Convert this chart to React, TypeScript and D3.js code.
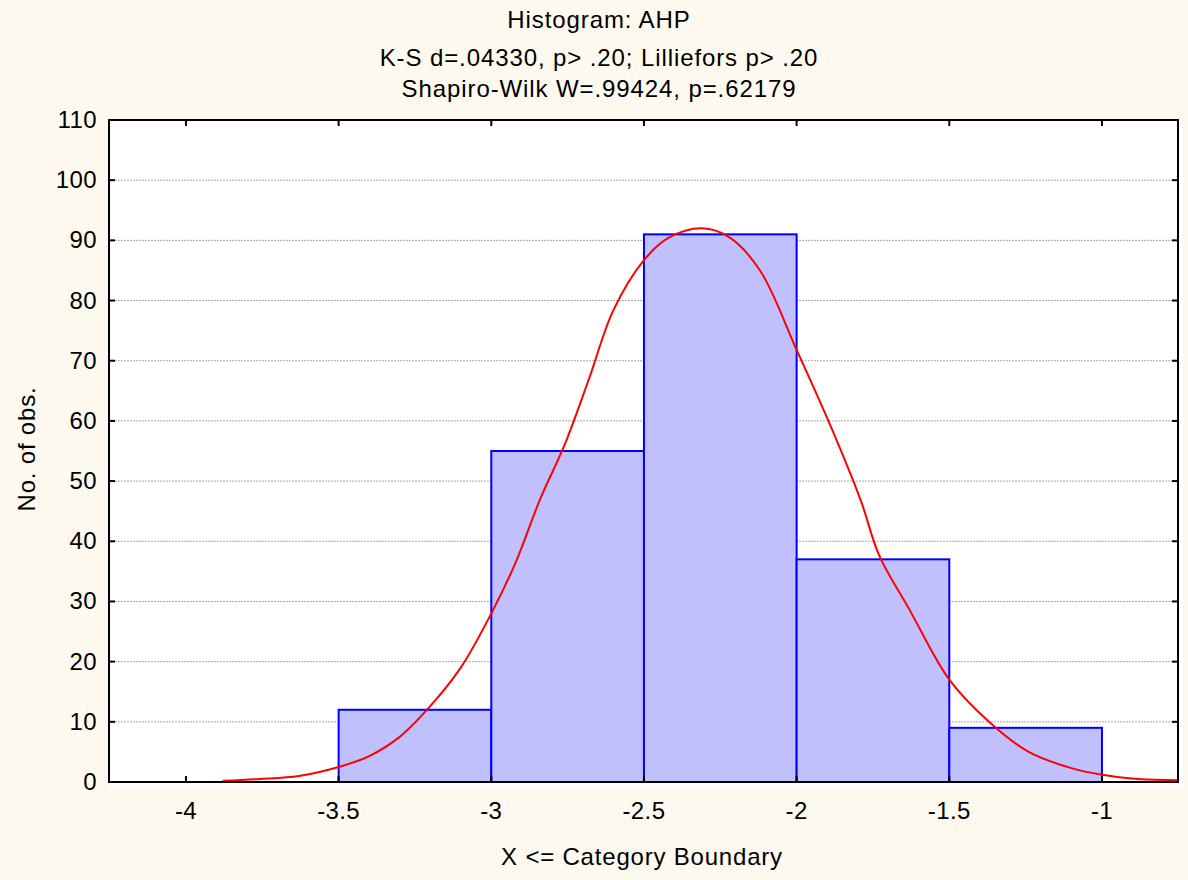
import React from "react";
import * as d3 from "d3";

// histogram bins (lower bound, upper bound, count)
const binStarts = [-3.5, -3, -2.5, -2, -1.5];
const binEnds = [-3, -2.5, -2, -1.5, -1];
const binCounts = [12, 55, 91, 37, 9];

// fitted normal curve
const curveX = [-3.88, -3.76, -3.63, -3.5, -3.4, -3.3, -3.2, -3.1, -3.0, -2.92, -2.84, -2.76, -2.68, -2.6, -2.5, -2.42, -2.31, -2.22, -2.12, -2.0, -1.89, -1.79, -1.73, -1.63, -1.5, -1.37, -1.24, -1.1, -1.0, -0.88, -0.75];
const curveY = [0.2, 0.5, 1, 2.5, 4.3, 7.5, 12.6, 19, 28, 36.5, 47, 56, 67, 78.4, 86.7, 90.4, 92, 90.5, 85, 71.8, 59.3, 46.8, 37.7, 28.6, 17, 10, 5, 2.3, 1.2, 0.5, 0.3];

const xTicks = [-4, -3.5, -3, -2.5, -2, -1.5, -1];
const yTicks = [0, 10, 20, 30, 40, 50, 60, 70, 80, 90, 100, 110];

const titles = [
  "Histogram: AHP",
  "K-S d=.04330, p> .20; Lilliefors p> .20",
  "Shapiro-Wilk W=.99424, p=.62179",
];
const titleBaselines = [28, 66, 97];

const W = 1188;
const H = 880;
const left = 109, right = 1178, top = 120, bottom = 782;

export default function App() {
  const x = d3.scaleLinear().domain([-4.252, -0.751]).range([left, right]);
  const y = d3.scaleLinear().domain([0, 110]).range([bottom, top]);

  const line = d3
    .line<number>()
    .x((_, i) => x(curveX[i]))
    .y((d) => y(d))
    .curve(d3.curveCatmullRom);

  const font = "Liberation Sans, Arial, sans-serif";

  return (
    <svg width={W} height={H} style={{ position: "absolute", left: 0, top: 0 }} fontFamily={font}>
      <rect x={0} y={0} width={W} height={H} fill="#fdf9ee" />
      <rect x={left} y={top} width={right - left + 5} height={bottom - top + 5} fill="#ffffff" />

      {titles.map((t, i) => (
        <text key={t} x={599} y={titleBaselines[i]} textAnchor="middle" fontSize={24} letterSpacing={0.9} fill="#000">
          {t}
        </text>
      ))}

      {/* grid */}
      {yTicks.filter((t) => t > 0 && t < 110).map((t) => (
        <line key={t} x1={left} x2={right} y1={y(t)} y2={y(t)} stroke="#aaaaaa" strokeWidth={1} strokeDasharray="2,1" />
      ))}

      {/* bars */}
      {binCounts.map((c, i) => (
        <rect
          key={i}
          x={x(binStarts[i])}
          y={y(c)}
          width={x(binEnds[i]) - x(binStarts[i])}
          height={y(0) - y(c)}
          fill="#c0c0ff"
          stroke="#0000ff"
          strokeWidth={2}
        />
      ))}

      <path d={line(curveY) || ""} fill="none" stroke="#ff0000" strokeWidth={2} />

      {/* frame */}
      <rect x={left} y={top} width={right - left} height={bottom - top} fill="none" stroke="#000" strokeWidth={2} />

      {/* ticks inside frame */}
      {xTicks.map((t) => (
        <g key={t}>
          <line x1={x(t)} x2={x(t)} y1={bottom} y2={bottom - 6} stroke="#000" strokeWidth={2} />
          <line x1={x(t)} x2={x(t)} y1={top} y2={top + 6} stroke="#000" strokeWidth={2} />
          <text x={x(t)} y={819} textAnchor="middle" fontSize={24} letterSpacing={0.4} fill="#000">
            {String(t)}
          </text>
        </g>
      ))}
      {yTicks.map((t) => (
        <g key={t}>
          <line x1={left} x2={left + 6} y1={y(t)} y2={y(t)} stroke="#000" strokeWidth={2} />
          <line x1={right} x2={right - 6} y1={y(t)} y2={y(t)} stroke="#000" strokeWidth={2} />
          <text x={97} y={y(t) + 8} textAnchor="end" fontSize={24} letterSpacing={0.4} fill="#000">
            {t}
          </text>
        </g>
      ))}

      <text x={642} y={865} textAnchor="middle" fontSize={24} letterSpacing={0.8} fill="#000">
        {"X <= Category Boundary"}
      </text>
      <text transform={`translate(35,449) rotate(-90)`} textAnchor="middle" fontSize={24} letterSpacing={0.8} fill="#000">
        No. of obs.
      </text>
    </svg>
  );
}
